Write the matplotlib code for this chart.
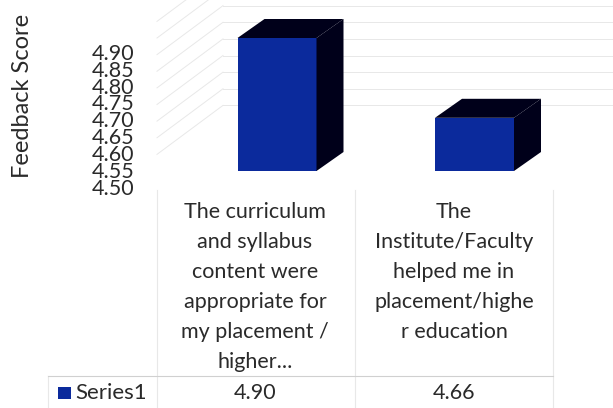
import matplotlib
matplotlib.use("Agg")
import matplotlib.pyplot as plt
from matplotlib.patches import Polygon, Rectangle
from matplotlib.transforms import Affine2D

plt.rcParams['font.family'] = ['Lato', 'DejaVu Sans']

categories = ["The curriculum\nand syllabus\ncontent were\nappropriate for\nmy placement /\nhigher...",
              "The\nInstitute/Faculty\nhelped me in\nplacement/highe\nr education"]
scores = [4.90, 4.66]
ticks = [4.50, 4.55, 4.60, 4.65, 4.70, 4.75, 4.80, 4.85, 4.90]
grid_levels = ticks[1:] + [4.95]
series_name = "Series1"
y_label = "Feedback Score"

W, H = 613, 408
blue = "#0b2a9c"
dark = "#00001a"
ink = "#2a2a2a"
line = "#e8e8e8"

fig = plt.figure(figsize=(W / 100, H / 100), dpi=100)
ax = fig.add_axes([0, 0, 1, 1])
ax.axis("off")

# one category = 197.5 px, one score unit = 332.5 px
ax.set_xlim(-277 / 197.5, (W - 277) / 197.5)
ax.set_ylim(4.5 - (H - 171) / 332.5, 4.5 + 171 / 332.5)

# pixels from the top left, for the table and the labels
px = Affine2D().scale(1, -1).translate(0, H)

bar_w = 0.4
dx = 27 / 197.5
dy = 19 / 332.5
wall_dx = 66 / 197.5
wall_dy = 49 / 332.5
wall_left = -120 / 197.5

# walls
for g in grid_levels:
    ax.plot([wall_left, wall_left + wall_dx], [g, g + wall_dy], color=line, lw=0.7, zorder=1)
    ax.plot([wall_left + wall_dx, ax.get_xlim()[1]], [g + wall_dy, g + wall_dy], color=line, lw=0.7, zorder=1)

# bars
for i, s in enumerate(scores):
    l, r = i - bar_w / 2, i + bar_w / 2
    ax.bar(i, s - 4.5, bar_w, bottom=4.5, color=blue, zorder=3)
    ax.add_patch(Polygon([(l, s), (r, s), (r + dx, s + dy), (l + dx, s + dy)], color=dark, lw=0, zorder=3))
    ax.add_patch(Polygon([(r, 4.5), (r, s), (r + dx, s + dy), (r + dx, 4.5 + dy)], color=dark, lw=0, zorder=3))

# y tick labels are spaced a bit wider than the bars
for i, t in enumerate(ticks):
    ax.text(134, 189 - i * 16.9, f"{t:.2f}", transform=px,
            ha="right", va="center", fontsize=15.5, color=ink)
ax.text(23, 96, y_label, transform=px, rotation=90, ha="center", va="center", fontsize=17, color=ink)

# data table
for x in [157, 355, 553]:
    ax.plot([x, x], [190, H], transform=px, color=line, lw=0.8, zorder=1)
ax.plot([48, 48], [376, H], transform=px, color=line, lw=0.8, zorder=1)
ax.plot([48, 553], [376, 376], transform=px, color="#d0d0d0", lw=0.8, zorder=1)

col_x = [255, 454]
for i, c in enumerate(categories):
    for j, row in enumerate(c.split("\n")):
        ax.text(col_x[i], 212 + j * 30, row, transform=px, ha="center", va="center", fontsize=15.5, color=ink)
    ax.text(col_x[i], 393, f"{scores[i]:.2f}", transform=px, ha="center", va="center", fontsize=15.5, color=ink)

ax.add_patch(Rectangle((58, 387), 13, 12, transform=px, color=blue, lw=0))
ax.text(75, 393, series_name, transform=px, ha="left", va="center", fontsize=16, color=ink)

fig.savefig("out.png", dpi=100)
